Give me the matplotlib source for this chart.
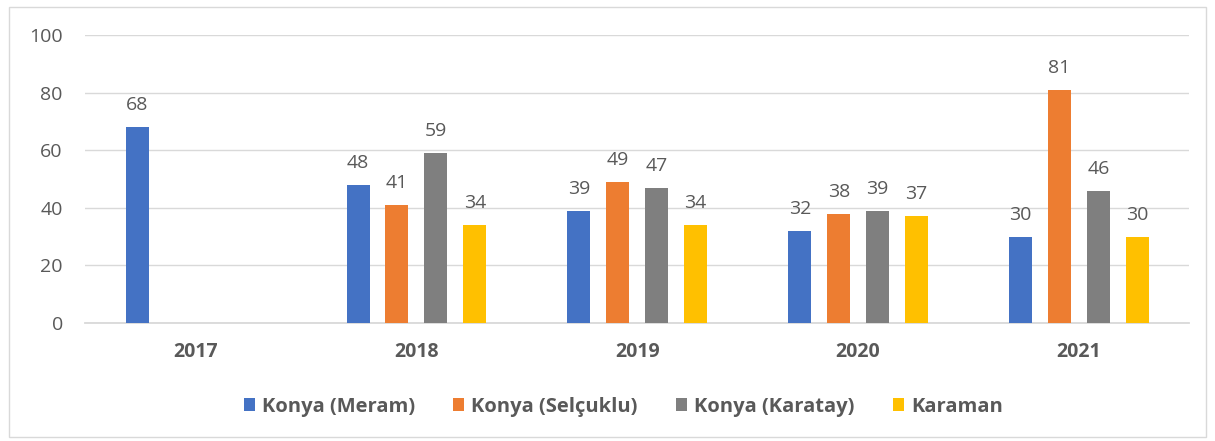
import numpy as np
import matplotlib.pyplot as plt
from matplotlib.patches import Rectangle

###############################################################################
## Data
###############################################################################

years = ['2017', '2018', '2019', '2020', '2021']
series_names = ['Konya (Meram)', 'Konya (Selçuklu)', 'Konya (Karatay)', 'Karaman']
meram = [68, 48, 39, 32, 30]
selcuklu = [np.nan, 41, 49, 38, 81]
karatay = [np.nan, 59, 47, 39, 46]
karaman = [np.nan, 34, 34, 37, 30]
colors = ['#4472C4', '#ED7D31', '#7F7F7F', '#FFC000']

###############################################################################
## Plot
###############################################################################

plt.rcParams['font.family'] = ['Open Sans', 'DejaVu Sans']
txt = '#595959'

fig = plt.figure(figsize=(12.15, 4.41), dpi=100)
fig.patches.append(Rectangle((0.007, 0.01), 0.986, 0.975, transform=fig.transFigure,
                             fill=False, edgecolor='#d9d9d9', linewidth=1.0))
ax = fig.add_axes([0.070, 0.2676, 0.909, 0.653])

x = np.arange(len(years))
step = 0.176
width = 0.104
all_series = [meram, selcuklu, karatay, karaman]

for i, (vals, name, c) in enumerate(zip(all_series, series_names, colors)):
    pos = x + (i - 1.5) * step
    ax.bar(pos, vals, width=width, color=c, label=name, zorder=3)
    for px, v in zip(pos, vals):
        if not np.isnan(v):
            ax.text(px, v + 4.5, '%d' % v, ha='center', va='bottom',
                    fontsize=14, color=txt)

ax.set_xlim(-0.5, len(years) - 0.5)
ax.set_ylim(0, 100)
ax.set_yticks(range(0, 101, 20))
ax.set_xticks(x)
ax.set_xticklabels(years, fontweight='bold', fontsize=14, color=txt)
ax.tick_params(axis='y', length=0, labelsize=14, labelcolor=txt, pad=16)
ax.tick_params(axis='x', length=0, pad=14)
ax.grid(axis='y', color='#d9d9d9', linewidth=1.0, zorder=0)

for s in ['top', 'right', 'left']:
    ax.spines[s].set_visible(False)
ax.spines['bottom'].set_color('#d9d9d9')
ax.spines['bottom'].set_linewidth(1.3)

leg = fig.legend(loc='center', bbox_to_anchor=(0.513, 0.078), ncol=4, frameon=False,
                 handlelength=0.55, handleheight=0.55, handletextpad=0.35,
                 columnspacing=1.9, prop={'weight': 'bold', 'size': 14.5})
for t in leg.get_texts():
    t.set_color(txt)

plt.savefig('out.png', dpi=100)
